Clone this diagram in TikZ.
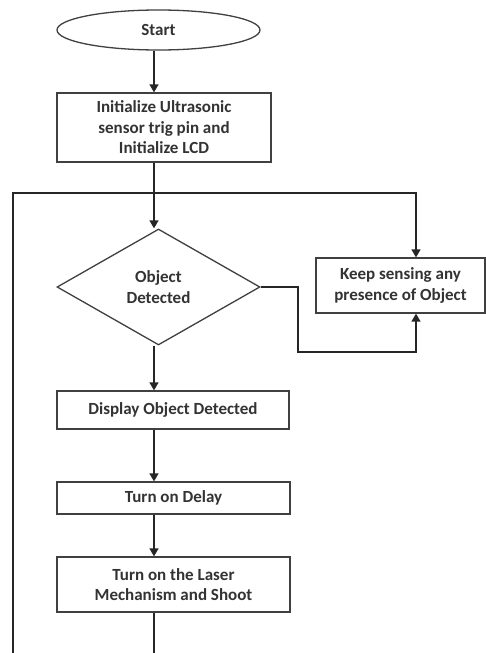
\documentclass[tikz,border=0pt]{standalone}
\usepackage{fontspec}
\setmainfont{Carlito}
\usetikzlibrary{arrows.meta,shapes.geometric}

\begin{document}
\begin{tikzpicture}[
  x=1pt, y=-1pt,
  line width=1.5pt, draw=black!85,
  box/.style={draw=black!75, line width=1.3pt, fill=white, minimum width=233pt, minimum height=38pt,
              inner sep=2pt, align=center, text=black!80,
              font=\fontsize{17}{20.5}\selectfont\bfseries},
  term/.style={box, ellipse, minimum width=203pt, minimum height=40pt},
  decision/.style={box, diamond, minimum width=203pt, minimum height=116pt, inner sep=0pt},
  arr/.style={-{Triangle[length=8pt, width=9pt]}}
]
  \useasboundingbox (0,0) rectangle (486,653);

  \node[term] (start) at (158.5,30) {Start};
  \node[box, minimum width=214pt, minimum height=69pt] (init) at (164,127.5)
       {Initialize Ultrasonic\\sensor trig pin and\\Initialize LCD};
  \node[decision] (test) at (158.5,287) {Object\\Detected};
  \node[box, minimum width=169pt, minimum height=55pt] (keep) at (400.5,285.5)
       {Keep sensing any\\presence of Object};
  \node[box, minimum width=232pt] (show) at (173,410) {Display Object Detected};
  \node[box, minimum height=32pt] (delay) at (173.5,498) {Turn on Delay};
  \node[box, minimum height=55pt] (laser) at (173.5,584.5)
       {Turn on the Laser\\Mechanism and Shoot};

  \coordinate (spine) at (154,0);
  \coordinate (lx)    at (13,193);
  \coordinate (rx)    at (416,193);
  \coordinate (bend)  at (298,352);
  \coordinate (foot)  at (13,653);
  \coordinate (tail)  at (154,653);

  \draw[arr] (start.south -| spine) -- (init.north -| spine);
  \draw[arr] (init.south -| spine)  -- (test.north -| spine);
  \draw[arr] (foot) -- (lx) -- (rx) -- (keep.north -| rx);
  \draw[arr] (test.east) -- (test.east -| bend) -- (bend) -- (bend -| rx) -- (keep.south -| rx);
  \draw[arr] (test.south -| spine)  -- (show.north -| spine);
  \draw[arr] (show.south -| spine)  -- (delay.north -| spine);
  \draw[arr] (delay.south -| spine) -- (laser.north -| spine);
  \draw (laser.south -| spine) -- (tail);
\end{tikzpicture}
\end{document}
